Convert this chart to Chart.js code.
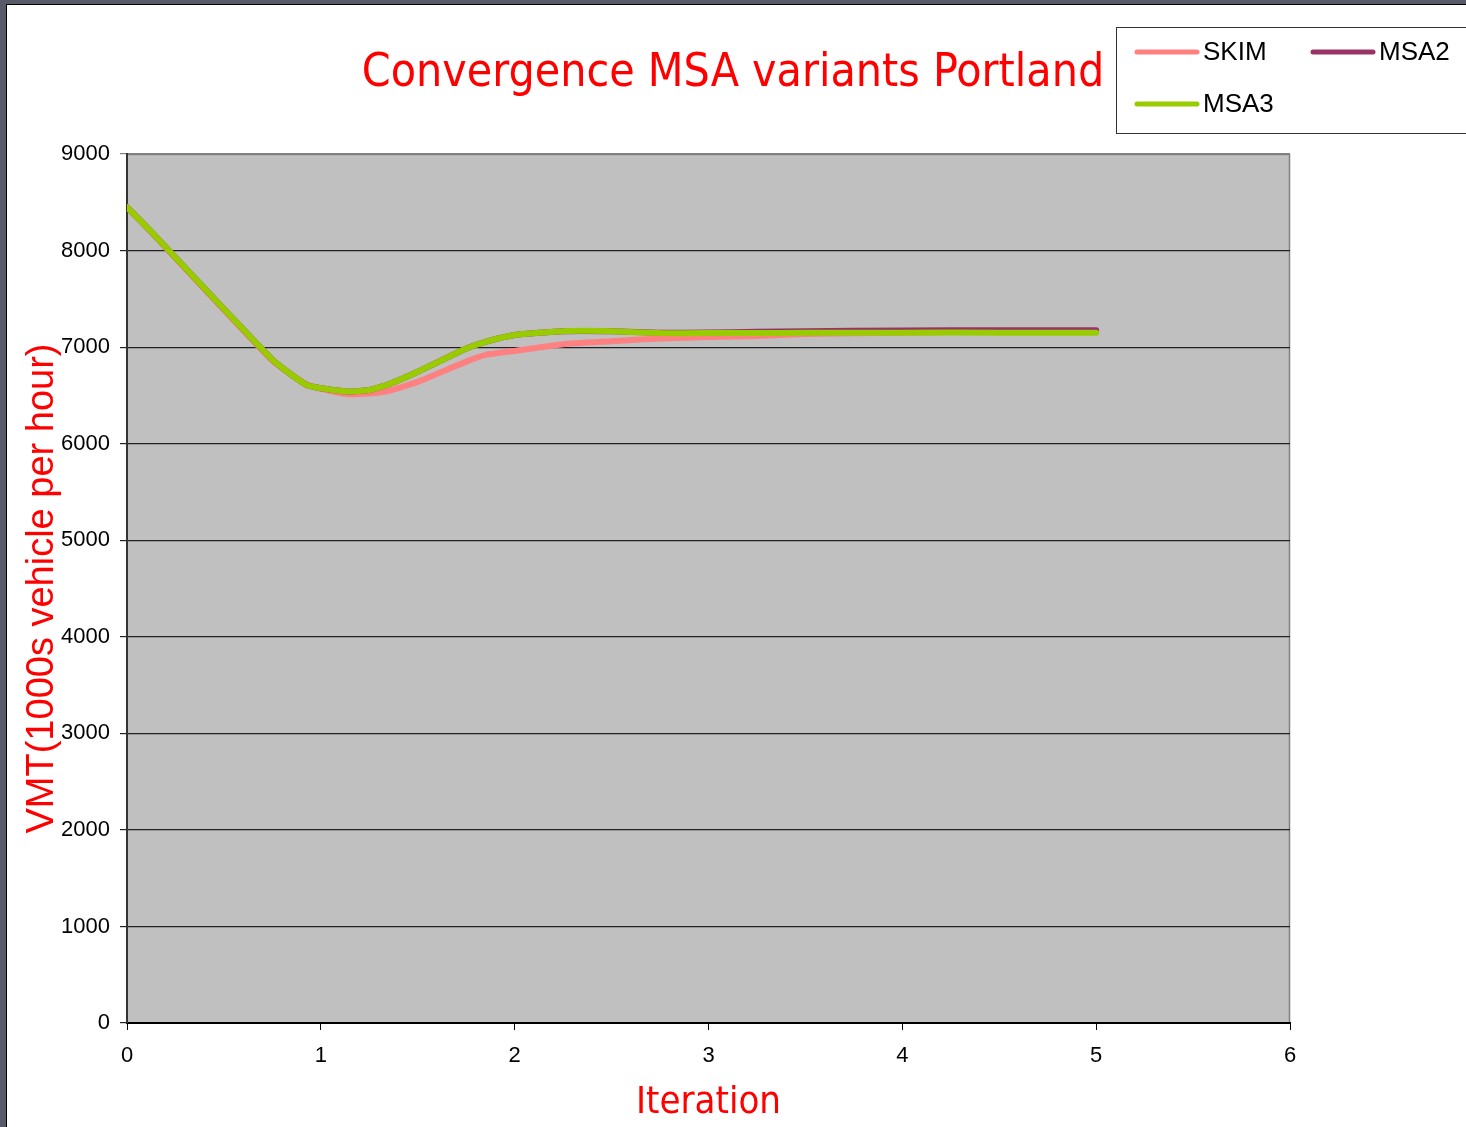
<!DOCTYPE html>
<html>
<head>
<meta charset="utf-8">
<script src="https://cdn.jsdelivr.net/npm/chart.js@4.4.1/dist/chart.umd.min.js"></script>
<style>
  html, body { margin: 0; padding: 0; background: #fff; }
  #wrap { width: 1466px; height: 1127px; position: relative; }
</style>
</head>
<body>
<div id="wrap"><canvas id="chart" width="1466" height="1127"></canvas></div>
<script>
// iteration positions where the values were read
const iterations = [0, 0.125, 0.75, 0.93, 1.13, 1.25, 1.35, 1.5, 1.75, 1.85, 2, 2.25, 2.5, 2.75, 3, 3.25, 3.5, 4, 4.5, 5];

const skim = [8450, 8190, 6860, 6610, 6515, 6520, 6548, 6640, 6850, 6920, 6960, 7030, 7060, 7090, 7105, 7115, 7135, 7150, 7160, 7165];
const msa2 = [8450, 8195, 6870, 6605, 6540, 6555, 6615, 6745, 6985, 7055, 7125, 7165, 7165, 7148, 7152, 7158, 7165, 7172, 7175, 7175];
const msa3 = [8450, 8195, 6870, 6605, 6540, 6555, 6615, 6745, 6985, 7055, 7125, 7165, 7165, 7145, 7145, 7145, 7148, 7150, 7150, 7150];

const seriesNames = ['SKIM', 'MSA2', 'MSA3'];
const seriesColors = ['#ff8080', '#993366', '#99cc00'];

const xTicks = [0, 1, 2, 3, 4, 5, 6];
const yTicks = [0, 1000, 2000, 3000, 4000, 5000, 6000, 7000, 8000, 9000];

function points(vals) {
    return iterations.map((x, i) => ({ x: x, y: vals[i] }));
}

// frame, plot background and outline
const backdrop = {
    id: 'backdrop',
    beforeDraw(c) {
        const ctx = c.ctx;
        const a = c.chartArea;
        ctx.save();
        ctx.fillStyle = '#fff';
        ctx.fillRect(0, 0, c.width, c.height);
        ctx.fillStyle = '#585a6a';
        ctx.fillRect(0, 0, c.width, 4);
        ctx.fillRect(0, 0, 6, c.height);
        ctx.fillStyle = '#000';
        ctx.fillRect(6, 4, 1, c.height);
        ctx.fillRect(6, 4, c.width, 1);
        ctx.fillStyle = '#c0c0c0';
        ctx.fillRect(a.left, a.top, a.right - a.left, a.bottom - a.top);
        ctx.strokeStyle = '#808080';
        ctx.lineWidth = 1.5;
        ctx.beginPath();
        ctx.moveTo(a.left, a.top + 0.5);
        ctx.lineTo(a.right - 0.5, a.top + 0.5);
        ctx.lineTo(a.right - 0.5, a.bottom);
        ctx.stroke();
        ctx.restore();
    }
};

// legend box in the top right corner
const boxLegend = {
    id: 'boxLegend',
    afterDraw(c) {
        const ctx = c.ctx;
        ctx.save();
        ctx.strokeStyle = '#333';
        ctx.lineWidth = 1;
        ctx.strokeRect(1116.5, 27.5, 360, 106);
        const spots = [[1137, 52], [1313, 52], [1137, 104]];
        ctx.font = '26px "Liberation Sans", Arial, sans-serif';
        ctx.textBaseline = 'middle';
        ctx.lineCap = 'round';
        ctx.lineWidth = 5;
        c.data.datasets.forEach((ds, i) => {
            const [x, y] = spots[i];
            ctx.strokeStyle = ds.borderColor;
            ctx.beginPath();
            ctx.moveTo(x, y);
            ctx.lineTo(x + 60, y);
            ctx.stroke();
            ctx.fillStyle = '#000';
            ctx.fillText(ds.label, x + 66, y + 1);
        });
        ctx.restore();
    }
};

new Chart(document.getElementById('chart'), {
    type: 'line',
    data: {
        datasets: seriesNames.map((name, i) => ({
            label: name,
            data: points([skim, msa2, msa3][i]),
            borderColor: seriesColors[i],
            backgroundColor: seriesColors[i],
            borderWidth: 6,
            borderCapStyle: 'round',
            borderJoinStyle: 'round',
            pointRadius: 0,
            tension: 0.15,
            order: 3 - i,
        })),
    },
    options: {
        responsive: false,
        animation: false,
        layout: {
            padding: { top: 0, left: 0, right: 0, bottom: 0 },
        },
        plugins: {
            legend: { display: false },
            tooltip: { enabled: false },
            title: {
                display: true,
                text: 'Convergence MSA variants Portland',
                color: '#ff0000',
                font: { family: '"DejaVu Sans Condensed", "DejaVu Sans", sans-serif', size: 46, weight: 'normal', lineHeight: 1.2 },
                padding: { top: 46, bottom: 52.8 },
            },
        },
        scales: {
            x: {
                type: 'linear',
                min: 0,
                max: 6,
                afterBuildTicks: (s) => { s.ticks = xTicks.map(v => ({ value: v })); },
                afterFit: (s) => { s.height = 104; },
                ticks: {
                    color: '#000',
                    font: { family: '"Liberation Sans", Arial, sans-serif', size: 22 },
                    padding: 13,
                    maxRotation: 0,
                    callback: (v) => String(v),
                },
                grid: {
                    drawOnChartArea: false,
                    color: '#000',
                    tickLength: 7,
                },
                border: { color: '#000', width: 2 },
                title: {
                    display: true,
                    text: 'Iteration',
                    color: '#ff0000',
                    font: { family: '"DejaVu Sans Condensed", "DejaVu Sans", sans-serif', size: 38, lineHeight: 1.2 },
                    padding: { top: 0, bottom: 1 },
                },
            },
            y: {
                min: 0,
                max: 9000,
                afterBuildTicks: (s) => { s.ticks = yTicks.map(v => ({ value: v })); },
                afterFit: (s) => { s.width = 127; },
                ticks: {
                    color: '#000',
                    font: { family: '"Liberation Sans", Arial, sans-serif', size: 22 },
                    padding: 10,
                    callback: (v) => String(v),
                },
                grid: {
                    color: (ctx) => (ctx.tick && ctx.tick.value === 9000 ? '#808080' : '#222'),
                    lineWidth: 1.2,
                    tickLength: 7,
                },
                border: { color: '#333', width: 2 },
                title: {
                    display: true,
                    text: 'VMT(1000s vehicle per hour)',
                    color: '#ff0000',
                    font: { family: '"Liberation Sans", Arial, sans-serif', size: 38, lineHeight: 1.2 },
                    padding: { top: 20, bottom: 0 },
                },
            },
            // empty strip on the right, keeps the plot where it is
            spacer: {
                type: 'linear',
                position: 'right',
                min: 0,
                max: 1,
                afterFit: (s) => { s.width = 176; },
                ticks: { display: false },
                grid: { display: false },
                border: { display: false },
            },
        },
    },
    plugins: [backdrop, boxLegend],
});
</script>
</body>
</html>
